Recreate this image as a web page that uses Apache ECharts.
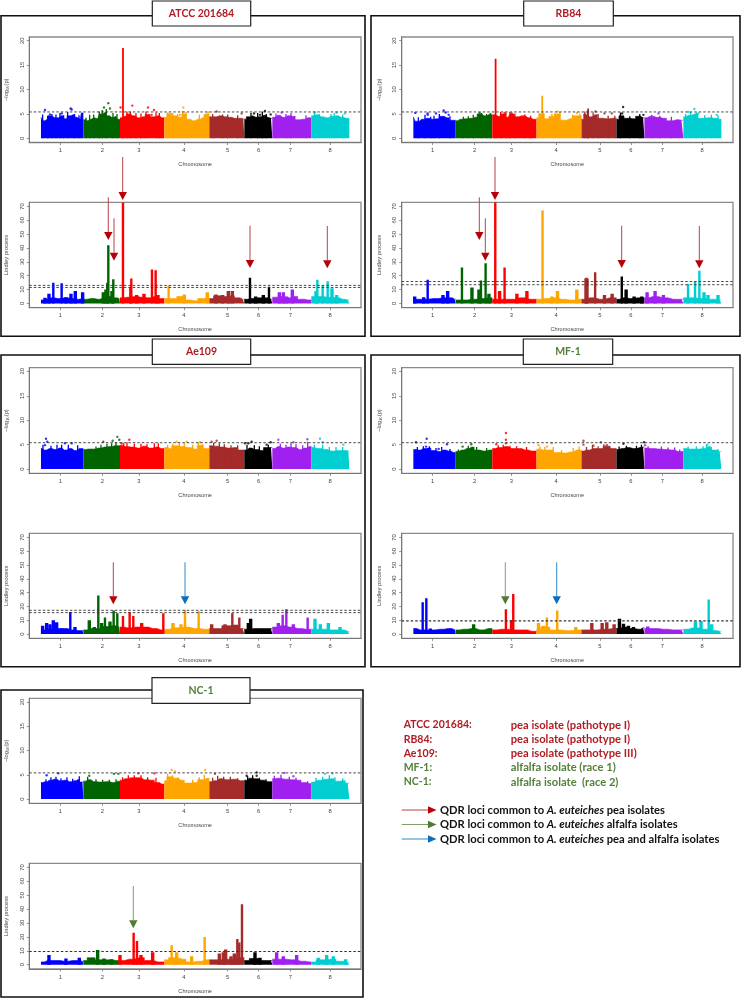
<!DOCTYPE html>
<html><head><meta charset="utf-8">
<style>html,body{margin:0;padding:0;background:#fff}#c{width:741px;height:998px;filter:blur(.3px)}</style>
<script src="https://cdn.jsdelivr.net/npm/echarts@6/dist/echarts.min.js"></script>
</head><body><div id="c"></div>
<script>
const chromLabels = ["1","2","3","4","5","6","7","8"];
const chromStarts = [0,127,237,370,505,610,694,811,925];
const chromTicks = [58,184,294,429,560,653,748,867];
const chromColors = ["#0000ff","#006400","#ff0000","#ffa500","#a52a2a","#000000","#a020f0","#00ced1"];
const topTicks = [0,5,10,15,20];
const lindTicks = [0,10,20,30,40,50,60,70];
const topThreshold = [5.4];

const atccTopMass = [[0,4.3],[8,3.6],[16,4.0],[26,4.6],[36,4.2],[48,4.2],[60,4.6],[72,4.0],[84,4.6],[96,4.8],[108,4.3],[118,3.9],[124,5.2],[127,3.8],[140,3.6],[150,3.9],[160,4.2],[170,4.0],[180,5.0],[190,5.4],[200,4.6],[212,4.3],[225,4.5],[233,3.9],[237,4.2],[250,4.5],[262,5.0],[275,4.6],[290,4.2],[305,4.4],[320,4.9],[335,4.4],[350,4.6],[362,4.2],[370,4.3],[385,5.1],[400,4.6],[415,4.3],[430,5.0],[442,3.9],[455,3.6],[470,3.9],[485,4.2],[498,5.0],[505,4.4],[520,4.4],[535,4.6],[550,4.4],[565,4.3],[580,4.1],[595,4.1],[607,4.0],[610,3.9],[622,4.4],[635,4.6],[645,4.3],[655,4.4],[668,4.7],[680,4.3],[690,4.1],[694,4.3],[710,4.7],[725,4.3],[740,4.6],[755,4.5],[770,3.8],[785,3.9],[800,4.2],[811,4.6],[825,4.8],[840,4.4],[855,4.2],[870,4.5],[885,4.6],[900,4.3],[915,4.1]];
const atccTopPeaks = [[246,18.5]];
const atccTopSpikes = [[5,4.9],[20,4.6],[33,5.0],[45,4.9],[57,5.2],[68,4.7],[80,5.4],[100,5.0],[114,4.7],[135,4.2],[146,4.8],[158,4.9],[175,5.5],[184,5.8],[196,6.0],[216,5.2],[228,5.0],[258,5.5],[268,5.5],[285,5.2],[300,5.1],[315,5.5],[345,5.3],[355,5.2],[380,5.3],[395,5.2],[410,5.0],[425,5.6],[435,5.4],[475,4.8],[490,4.9],[515,5.0],[545,4.9],[560,4.9],[590,4.7],[630,5.2],[650,5.2],[664,5.5],[676,5.0],[705,5.1],[735,5.0],[750,5.2],[795,4.7],[820,5.3],[835,5.0],[870,5.0],[880,5.2],[905,4.9]];
const atccTopDots = [[12,5.8],[89,6.1],[92,5.9],[62,5.1],[27,4.9],[202,7.2],[189,6.3],[207,6.1],[239,6.3],[274,6.7],[321,6.3],[339,5.8],[332,4.8],[427,6.3],[417,4.8],[502,5.3],[527,5.5],[602,5.1],[672,5.6],[639,5.1],[657,4.8],[689,4.9],[722,5.3],[822,5.3],[887,5.3],[912,5.1]];
const atccLindMass = [[0,2.5],[15,3],[30,4],[50,3.5],[70,4],[90,3.5],[110,3],[125,4],[127,3],[150,3.5],[170,3],[185,4],[200,5],[220,4],[235,3.5],[237,4],[260,4.5],[280,5],[300,4.5],[320,4],[340,5],[360,3.5],[370,3.5],[395,3.5],[420,5],[440,2.5],[460,2],[480,3.5],[500,4.5],[505,3.5],[530,5.5],[550,5],[570,5.5],[590,4],[605,3],[610,3],[630,3.5],[650,4],[670,4],[690,3],[694,4.5],[720,5],[740,4],[760,5],[780,3],[800,2.5],[811,5],[830,5],[860,4.5],[885,4],[905,3],[920,2.5]];
const atccLindPeaks = [[37,15],[62,14.5],[24,7],[12,4],[90,7],[103,9],[125,8],[75,4.5],[202,42],[217,17.5],[199,15],[195,10],[187,8],[213,9],[246,73],[271,18],[268,12],[333,24.5],[344,24],[309,7],[351,6],[287,6],[383,13],[430,6.5],[499,8],[525,6.5],[562,9],[574,9],[545,6],[627,18.5],[684,12],[667,6],[644,5],[715,8],[727,8],[754,10],[737,5],[829,17],[825,9],[845,13],[860,16],[873,11],[887,6]];
const atccLindThreshold = [11.5,13];

const rb84TopMass = [[0,4.4],[10,3.5],[25,3.9],[40,4.1],[55,3.9],[70,4.0],[85,4.5],[100,4.2],[115,3.7],[127,3.6],[140,3.9],[155,4.0],[170,4.1],[185,4.3],[198,5.0],[212,4.6],[228,4.8],[237,4.8],[255,4.5],[270,5.0],[285,4.3],[295,5.0],[310,4.4],[325,4.6],[345,4.2],[360,3.9],[370,4.2],[385,5.0],[400,4.0],[415,4.5],[432,5.0],[450,3.7],[470,4.0],[490,4.6],[505,3.9],[518,5.0],[530,4.4],[545,4.8],[560,4.1],[580,4.0],[598,4.1],[610,3.9],[625,4.6],[640,4.1],[660,4.0],[675,4.5],[690,4.2],[694,4.2],[710,4.5],[730,4.3],[750,4.1],[770,3.6],[790,3.8],[805,3.7],[811,4.4],[826,4.7],[845,5.0],[865,4.1],[885,4.2],[905,4.1],[918,3.9]];
const rb84TopPeaks = [[247,16.3],[387,8.7],[525,6.1]];
const rb84TopSpikes = [[15,4.3],[35,4.8],[52,4.4],[62,4.6],[78,5.0],[110,4.5],[150,4.4],[165,4.5],[180,4.8],[205,5.2],[220,5.0],[232,5.2],[262,5.4],[278,5.3],[290,5.4],[305,5.1],[335,4.9],[352,4.6],[378,5.2],[392,5.2],[425,5.1],[440,5.4],[478,4.8],[500,5.1],[515,5.5],[523,5.7],[540,5.3],[555,5.0],[585,4.6],[605,4.6],[622,5.3],[650,4.5],[680,5.0],[716,4.8],[740,4.6],[775,4.4],[818,5.0],[833,5.4],[850,5.3],[875,4.7],[895,4.8],[915,4.7]];
const rb84TopDots = [[6,5.2],[43,5.1],[43,4.8],[91,5.7],[97,5.3],[106,4.8],[68,5.1],[199,5.2],[229,4.8],[274,5.2],[295,5.1],[416,4.8],[433,5.5],[491,5.2],[547,5.5],[574,5.1],[596,5.1],[630,6.4],[627,5.1],[691,4.8],[736,5.1],[844,6],[826,5.4],[856,5.1],[911,4.8]];
const rb84LindMass = [[0,3],[30,3],[60,3.5],[90,4],[110,4],[124,3],[127,2.5],[150,2.5],[175,3],[200,3.5],[225,4],[237,3],[260,3],[290,3],[320,4],[350,3],[370,3],[395,3.5],[420,4],[445,3],[470,2.5],[495,3],[505,3],[530,4],[560,3],[590,4],[610,3],[630,4],[650,3.5],[675,4],[694,4],[720,5],[750,4],[780,3],[805,3],[811,4],[835,4],[860,3.5],[890,3],[920,2.5]];
const rb84LindPeaks = [[43,17],[146,26],[176,11.5],[197,10],[203,16.5],[217,29],[227,7],[246,73],[259,9],[274,26],[341,9],[311,7],[388,67],[433,9],[416,5],[491,10],[520,18.5],[517,18],[523,18],[546,22.5],[574,6],[597,7],[626,19.5],[639,10],[663,5],[686,5],[702,8],[726,9],[751,6],[825,14],[846,16],[859,23.5],[873,8],[885,6],[915,6],[103,9],[89,6],[31,4.5],[4,5]];
const rb84LindThreshold = [13.5,15.8];

const ae109TopMass = [[0,4.3],[10,3.9],[25,4.2],[40,4.0],[55,4.3],[70,3.9],[85,4.2],[100,3.8],[115,4.2],[127,4.0],[142,4.1],[157,4.1],[172,4.3],[190,4.5],[205,4.6],[222,4.8],[237,4.9],[252,4.6],[270,4.5],[290,4.3],[305,4.7],[325,4.3],[345,4.5],[360,4.2],[370,4.4],[385,4.2],[400,4.8],[420,4.6],[440,4.4],[460,4.1],[478,4.9],[495,4.2],[505,4.8],[520,4.7],[540,4.5],[560,4.3],[580,4.4],[600,3.9],[610,3.9],[625,4.3],[640,4.0],[660,3.8],[675,4.4],[690,4.4],[694,4.2],[710,4.6],[725,4.3],[740,4.5],[755,4.4],[775,4.0],[790,4.3],[805,4.6],[811,4.4],[830,4.2],[850,4.0],[870,3.7],[890,3.8],[910,3.8],[922,3.7]];
const ae109TopPeaks = [];
const ae109TopSpikes = [[6,5.0],[30,4.8],[48,5.0],[62,5.0],[82,5.0],[110,4.9],[165,4.6],[180,5.0],[198,5.2],[212,5.3],[225,5.5],[248,5.3],[258,5.5],[280,5.2],[300,5.2],[318,5.1],[340,5.3],[352,5.3],[380,5.0],[395,5.2],[415,5.5],[430,5.3],[455,5.0],[472,5.4],[485,5.1],[518,5.4],[535,5.3],[550,5.1],[570,4.9],[590,4.9],[618,5.0],[640,4.9],[655,4.7],[682,5.0],[718,5.2],[735,5.0],[750,5.3],[765,5.1],[785,4.9],[800,5.6],[820,5.0],[845,5.0],[865,4.5],[885,4.5],[905,4.5]];
const ae109TopDots = [[15,6.2],[19,5.6],[12,4.9],[72,5.3],[92,5.3],[187,5.6],[215,5.8],[229,6.6],[235,6],[265,6],[242,5.3],[437,5.6],[407,5.6],[477,5.5],[512,5.6],[527,5.8],[612,5.3],[632,5.6],[622,5.3],[677,5],[689,5.5],[712,6],[757,5.5],[799,6.1],[837,6.2],[845,5.5],[907,5]];
const ae109LindMass = [[0,3],[20,3.5],[40,4],[70,4],[90,3],[110,2.5],[125,2.5],[127,3],[150,4],[175,4],[195,5.5],[215,6],[235,5],[237,5],[260,4.5],[285,5],[310,5],[335,4],[360,3],[370,3.5],[400,4.5],[430,5],[460,4],[490,3.5],[505,4],[530,4],[555,6],[580,6.5],[605,4],[610,3.5],[640,4],[670,4],[690,4],[694,5],[720,6],[745,5],[770,4],[795,3.5],[811,3.5],[840,3.5],[870,3],[900,3],[920,2]];
const ae109LindPeaks = [[5,6],[17,8],[27,7],[37,10],[47,8.5],[62,4],[88,16],[102,5],[145,10],[172,28],[160,5],[192,12],[182,8],[207,9],[218,17],[229,15],[246,13],[266,16],[277,13],[302,8],[367,15],[396,8],[420,7],[432,17.5],[473,16.5],[512,7],[552,7],[574,15],[595,12],[629,11],[622,8],[712,8],[725,14],[736,18],[757,7],[800,12],[822,11],[838,7],[862,8],[897,5]];
const ae109LindThreshold = [15.5,17.2];

const mf1TopMass = [[0,4.0],[15,3.9],[30,4.2],[45,4.3],[60,3.8],[75,3.6],[90,3.9],[105,3.7],[120,3.4],[127,3.6],[145,3.9],[160,4.2],[175,4.5],[190,3.9],[210,3.7],[228,3.9],[237,4.2],[255,4.4],[275,4.6],[295,4.2],[315,4.2],[335,3.9],[355,3.7],[370,4.1],[390,3.9],[410,3.9],[430,3.4],[450,3.3],[470,3.5],[490,3.9],[505,3.7],[520,3.9],[540,4.2],[560,4.2],[580,4.7],[600,4.2],[610,4.0],[625,4.2],[640,4.4],[660,4.2],[680,4.4],[690,4.5],[694,4.3],[715,4.2],[735,4.1],[755,4.0],[775,3.9],[795,3.6],[811,4.2],[830,4.1],[850,4.1],[870,4.2],[885,4.6],[900,3.9],[920,3.6]];
const mf1TopPeaks = [];
const mf1TopSpikes = [[12,4.5],[30,4.7],[48,4.7],[68,4.3],[85,4.5],[110,4.1],[135,4.0],[165,4.8],[190,4.5],[220,4.3],[255,4.9],[270,5.0],[290,4.8],[310,4.7],[340,4.5],[380,4.6],[395,4.5],[420,4.5],[445,3.9],[480,4.3],[498,4.6],[520,4.5],[538,5.0],[555,4.7],[572,5.1],[590,4.7],[618,4.6],[640,4.8],[670,4.8],[685,5.0],[705,4.7],[745,4.6],[765,4.4],[785,4.4],[800,4.0],[825,4.6],[850,4.6],[870,4.7],[880,5.0],[895,4.5],[915,4.1]];
const mf1TopDots = [[8,5.5],[40,6.2],[101,5.1],[38,4.6],[76,4.1],[174,5.1],[148,4.6],[278,7.4],[278,6],[278,5.3],[249,5.1],[376,4.9],[416,5.3],[401,4.6],[511,5.8],[511,5],[563,5.5],[541,4.8],[581,4.9],[631,5.2],[693,5.5],[696,4.9],[883,5]];
const mf1LindMass = [[0,4],[20,3],[50,3],[80,3.5],[105,4],[125,3],[127,3],[150,3.5],[175,4],[200,3],[225,4],[237,3],[265,3.5],[300,3],[330,3],[355,2],[370,3.5],[395,5],[425,3],[460,2.5],[495,3],[505,3],[535,3],[570,3.5],[600,4],[610,4],[630,5],[650,4],[675,3.5],[690,4.5],[694,4],[720,4],[750,3.5],[780,3],[805,3],[811,3.5],[840,4.5],[870,3.5],[900,2.5],[920,2]];
const mf1LindPeaks = [[28,23],[39,26],[51,4],[181,7],[278,18],[300,29],[295,10],[376,8],[401,12],[391,6],[432,17],[488,5],[536,8],[567,8],[581,8.5],[603,7],[619,11],[631,7.5],[646,6],[661,5],[704,5.5],[847,9],[864,9.5],[887,25],[896,7]];
const mf1LindThreshold = [9.5];

const nc1TopMass = [[0,3.4],[12,3.6],[25,3.9],[40,4.1],[55,3.8],[70,3.9],[85,3.6],[100,3.8],[112,4.1],[122,3.5],[127,3.7],[142,4.0],[158,3.6],[175,3.5],[195,3.6],[215,3.4],[230,3.7],[237,3.9],[252,4.2],[270,4.4],[290,4.4],[310,4.0],[330,3.9],[350,3.4],[362,3.1],[370,3.8],[385,4.6],[400,4.3],[420,3.9],[440,3.3],[460,3.4],[480,4.0],[498,4.3],[505,3.6],[520,3.8],[535,4.2],[555,4.0],[575,4.1],[598,3.8],[610,3.9],[625,4.3],[640,4.2],[660,3.9],[680,3.6],[694,4.2],[710,4.3],[730,4.1],[750,4.0],[770,3.9],[790,3.4],[805,3.2],[811,3.5],[830,3.9],[850,4.1],[870,4.2],[890,3.7],[905,3.8],[920,3.3]];
const nc1TopPeaks = [];
const nc1TopSpikes = [[15,4.1],[30,4.5],[45,4.6],[60,4.3],[78,4.5],[95,4.2],[115,4.7],[140,4.6],[165,4.1],[185,4.0],[205,4.0],[225,4.1],[245,4.5],[262,4.9],[280,4.9],[300,4.9],[320,4.5],[345,4.4],[380,5.2],[395,4.9],[412,4.5],[455,4.0],[475,4.5],[490,5.0],[515,4.4],[530,4.8],[548,4.6],[568,4.6],[590,4.3],[620,4.7],[635,4.9],[655,4.4],[675,4.1],[700,4.8],[720,5.0],[745,4.6],[765,4.4],[800,3.7],[825,4.4],[845,4.6],[865,4.9],[882,4.5],[905,4.3]];
const nc1TopDots = [[52,5.3],[17,4.9],[145,4.8],[219,5.2],[232,5.2],[292,5.3],[340,5.3],[392,6],[402,5.7],[492,6],[522,5.2],[647,5.5],[647,4.8],[617,4.8],[730,5.4],[757,4.7],[852,5.2],[874,5.3]];
const nc1LindMass = [[0,2],[20,3],[45,3],[70,2.5],[95,3],[125,2.5],[127,3],[150,5],[175,3.5],[200,3.5],[225,3],[237,3],[265,4],[295,5],[325,3],[350,2],[370,3.5],[395,5],[425,4],[445,2],[470,2.5],[495,3.5],[505,3.5],[530,3.5],[560,4],[590,5],[610,3],[640,4.5],[670,3],[690,3],[694,4],[720,4],[750,3.5],[780,2.5],[805,2],[811,2],[840,3.5],[870,4],[900,2.5],[920,1.5]];
const nc1LindPeaks = [[24,7],[75,4.5],[115,5],[170,10.5],[189,4.5],[212,4],[237,7],[278,23],[288,17],[300,7],[335,9],[392,14],[407,9],[452,6],[491,20],[535,8],[547,9],[554,11],[570,6],[580,8],[589,18.5],[595,16],[603,43.5],[642,9],[657,5],[707,9],[727,6],[767,7],[832,5],[857,7],[877,6],[914,4]];
const nc1LindThreshold = [9.5];

const isolateNames = ["ATCC 201684","RB84","Ae109","MF-1","NC-1"];
const legendIsolates = ["ATCC 201684:","RB84:","Ae109:","MF-1:","NC-1:"];
const legendDescriptions = ["pea isolate (pathotype I)","pea isolate (pathotype I)","pea isolate (pathotype III)","alfalfa isolate (race 1)","alfalfa isolate  (race 2)"];
const legendArrowEnds = ["pea isolates","alfalfa isolates","pea and alfalfa isolates"];

// ---- layout ----
const RED="#b01c24", GREEN="#55803a";
const SHAFT={r:"#b8434a",g:"#7f9f68",b:"#2f86c8"}, HEAD={r:"#b80008",g:"#4f7a30",b:"#0a6cbd"};
const COLS={L:[29.3,361],R:[401.7,733]};
const panels=[
 {col:"L",top:[37,142.5],bot:[202.3,307.7],t:[atccTopMass,atccTopPeaks,atccTopDots,atccTopSpikes],l:[atccLindMass,atccLindPeaks],th:atccLindThreshold},
 {col:"R",top:[37,142.5],bot:[202.3,307.7],t:[rb84TopMass,rb84TopPeaks,rb84TopDots,rb84TopSpikes],l:[rb84LindMass,rb84LindPeaks],th:rb84LindThreshold},
 {col:"L",top:[367.7,473.3],bot:[533.3,638.3],t:[ae109TopMass,ae109TopPeaks,ae109TopDots,ae109TopSpikes],l:[ae109LindMass,ae109LindPeaks],th:ae109LindThreshold},
 {col:"R",top:[367.7,473.3],bot:[533.3,638.3],t:[mf1TopMass,mf1TopPeaks,mf1TopDots,mf1TopSpikes],l:[mf1LindMass,mf1LindPeaks],th:mf1LindThreshold},
 {col:"L",top:[698.3,803.3],bot:[863.3,969],t:[nc1TopMass,nc1TopPeaks,nc1TopDots,nc1TopSpikes],l:[nc1LindMass,nc1LindPeaks],th:nc1LindThreshold}
];

const XMIN=-35,XMAX=960;
function colorAt(x){for(let i=0;i<8;i++){if(x<chromStarts[i+1])return chromColors[i]}return chromColors[7]}
const grid=[],xAxis=[],yAxis=[],series=[];
function columns(i,data,w){
  return {type:"custom",xAxisIndex:i,yAxisIndex:i,silent:true,animation:false,clip:true,z:3,data,
    encode:{x:0,y:1},
    renderItem(params,api){
      const x=api.value(0),hi=api.coord([x,api.value(1)]),lo=api.coord([x,0]);
      return {type:"rect",shape:{x:hi[0]-w/2,y:hi[1],width:w,height:lo[1]-hi[1]},style:{fill:colorAt(x)}};
    }};
}
function addPlot(col,yr,arrs,isTop,th){
  const i=grid.length,[x0,x1]=COLS[col];
  grid.push({left:x0,width:x1-x0,top:yr[0],height:yr[1]-yr[0],show:true,borderColor:"#8a8a8a",borderWidth:1.3,backgroundColor:"#fff"});
  xAxis.push({gridIndex:i,type:"value",min:XMIN,max:XMAX,splitLine:{show:false},
    name:"Chromosome",nameLocation:"middle",nameGap:19,nameTextStyle:{fontSize:5.6,color:"#444",fontFamily:"Liberation Sans"},
    axisLine:{show:true,onZero:false,lineStyle:{color:"#777",width:1}},
    axisTick:{show:true,length:2.5,lineStyle:{color:"#777",width:.8},customValues:chromTicks},
    axisLabel:{fontSize:5.8,color:"#444",margin:5,fontFamily:"Liberation Sans",customValues:chromTicks,
      formatter:v=>chromLabels[chromTicks.indexOf(v)]}});
  const ticks=isTop?topTicks:lindTicks;
  yAxis.push({gridIndex:i,type:"value",min:isTop?-0.86:-3.1,max:isTop?20.75:73,splitLine:{show:false},
    name:isTop?"−log₁₀(p)":"Lindley process",nameLocation:"middle",nameRotate:90,nameGap:19.5,
    nameTextStyle:{fontSize:5.8,color:"#444",fontFamily:"Liberation Sans"},
    axisLine:{show:true,onZero:false,lineStyle:{color:"#777",width:1}},
    axisTick:{show:true,length:2.5,lineStyle:{color:"#777",width:.8},customValues:ticks},
    axisLabel:{fontSize:5.8,color:"#444",rotate:90,margin:4,fontFamily:"Liberation Sans",customValues:ticks}});
  const [mass,peaks,dots,spikes]=arrs;
  for(let c=0;c<8;c++){
    const a=chromStarts[c],b=chromStarts[c+1];
    const pts=mass.filter(p=>p[0]>=a&&p[0]<b);
    if(!pts.length)continue;
    const data=[[a,pts[0][1]],...pts,[b,pts[pts.length-1][1]]];
    series.push({type:"line",xAxisIndex:i,yAxisIndex:i,step:"middle",symbol:"none",silent:true,animation:false,
      data,lineStyle:{color:chromColors[c],width:.6},areaStyle:{color:chromColors[c],opacity:1,origin:0},z:2});
  }
  if(spikes&&spikes.length)series.push(columns(i,spikes,1.3));
  const tall=peaks.filter(p=>isTop||p[1]>=12),low=peaks.filter(p=>!isTop&&p[1]<12);
  if(tall.length)series.push(columns(i,tall,isTop?1.8:2.4));
  if(low.length)series.push(columns(i,low,3.4));
  if(dots&&dots.length)series.push({type:"scatter",xAxisIndex:i,yAxisIndex:i,symbolSize:2.4,silent:true,animation:false,
    data:dots,itemStyle:{color:p=>colorAt(p.value[0])},z:3});
  th.forEach(v=>series.push({type:"line",xAxisIndex:i,yAxisIndex:i,symbol:"none",silent:true,animation:false,
    data:[[XMIN,v],[XMAX,v]],lineStyle:{color:"#333",width:th.length==1&&!isTop?1.2:.9,type:[2.5,2]},z:4}));
}
panels.forEach(p=>{addPlot(p.col,p.top,p.t,true,topThreshold);addPlot(p.col,p.bot,p.l,false,p.th)});

const g=[];
const frames=[[1,15.7,364,320.5],[371,15.7,369,320.5],[1,355,364,311.7],[371,355,369,311.7],[1,690,362,307]];
frames.forEach(f=>g.push({type:"rect",z:1,silent:true,shape:{x:f[0],y:f[1],width:f[2],height:f[3]},style:{fill:"none",stroke:"#111",lineWidth:1.6}}));
const titleBoxes=[[152.3,1,98.4,25,RED],[523.7,1,89.6,25,RED],[152.3,339,98.4,25.3,RED],[523.3,339,89.4,25.3,GREEN],[152,677.7,98,25.6,GREEN]];
titleBoxes.forEach((b,i)=>{
  g.push({type:"rect",z:20,silent:true,shape:{x:b[0],y:b[1],width:b[2],height:b[3]},style:{fill:"#fff",stroke:"#222",lineWidth:1.2}});
  g.push({type:"text",z:21,silent:true,style:{x:b[0]+b[2]/2,y:b[1]+b[3]/2,text:isolateNames[i],fill:b[4],font:"bold 10.5px Lato",textAlign:"center",textVerticalAlign:"middle"}});
});
// arrows: x, shaft top, head top, colour key
const arrows=[[122.7,157,192,"r"],[108.3,197.3,232,"r"],[114,218.3,252.7,"r"],[250,225.7,260,"r"],[327.3,226,260.3,"r"],
 [495,157,192,"r"],[479.3,197.3,232,"r"],[485.3,218.3,252.7,"r"],[621.7,225.7,260,"r"],[699.3,226,260.3,"r"],
 [113.3,562.3,596.3,"r"],[185,562.3,596.3,"b"],[505.3,562.3,596.3,"g"],[556.7,562.3,596.3,"b"],[133.3,886,920.3,"g"]];
arrows.forEach(a=>{
  g.push({type:"line",z:30,silent:true,shape:{x1:a[0],y1:a[1],x2:a[0],y2:a[2]},style:{stroke:SHAFT[a[3]],lineWidth:1}});
  g.push({type:"polygon",z:30,silent:true,shape:{points:[[a[0]-4.2,a[2]],[a[0]+4.2,a[2]],[a[0],a[2]+8]]},style:{fill:HEAD[a[3]]}});
});
legendIsolates.forEach((t,i)=>{
  const y=725+i*14.25,c=i<3?RED:GREEN;
  g.push({type:"text",z:30,silent:true,style:{x:403.7,y,text:t,fill:c,font:"bold 10.5px Lato",textVerticalAlign:"middle"}});
  g.push({type:"text",z:30,silent:true,style:{x:510.7,y,text:legendDescriptions[i],fill:c,font:"bold 11.2px Lato",textVerticalAlign:"middle"}});
});
legendArrowEnds.forEach((t,i)=>{
  const y=810+i*14.5,k=["r","g","b"][i];
  g.push({type:"line",z:30,silent:true,shape:{x1:401.7,y1:y,x2:429,y2:y},style:{stroke:SHAFT[k],lineWidth:1}});
  g.push({type:"polygon",z:30,silent:true,shape:{points:[[428,y-3.8],[428,y+3.8],[436.5,y]]},style:{fill:HEAD[k]}});
  g.push({type:"text",z:30,silent:true,style:{x:440,y,text:"{b|QDR loci common to }{i|A. euteiches}{b| "+t+"}",textVerticalAlign:"middle",
    rich:{b:{font:"bold 11.2px Lato",fill:"#111"},i:{font:"italic bold 11.2px Lato",fill:"#111"}}}});
});

const chart=echarts.init(document.getElementById("c"));
chart.setOption({animation:false,backgroundColor:"#fff",grid,xAxis,yAxis,series,graphic:{elements:g}});
</script></body></html>
